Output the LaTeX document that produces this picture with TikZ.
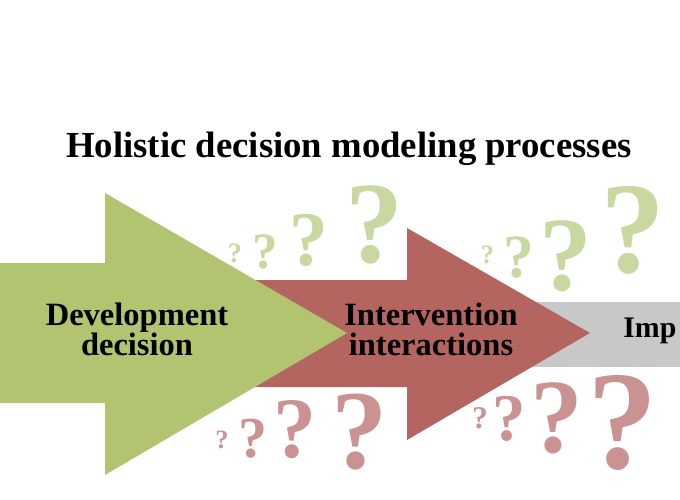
\documentclass[tikz,border=0pt]{standalone}
\usepackage{fontspec}
\setmainfont{Liberation Serif}
\usetikzlibrary{positioning}

\definecolor{devgreen}{RGB}{179,196,113}
\definecolor{intred}{RGB}{180,101,96}
\definecolor{impgray}{RGB}{200,200,200}
\definecolor{qgreen}{RGB}{201,215,160}
\definecolor{qred}{RGB}{202,146,144}

\begin{document}
\begin{tikzpicture}[
  x=0.02cm, y=-0.02cm,
  stagelab/.style={align=center, font=\fontsize{18.5}{17}\selectfont\bfseries, inner sep=0pt, anchor=base},
  titlelab/.style={font=\fontsize{20.9}{24}\selectfont\bfseries, inner sep=0pt, anchor=base},
  qmark/.style={inner sep=0pt, anchor=base, font=\bfseries}
]
\clip (0,0) rectangle (680,500);
\fill[white] (0,0) rectangle (680,500);

% the three stages, back to front
\fill[impgray] (530,302) rectangle (690,367);
\fill[intred] (200,280) -- (407,280) -- (407,228) -- (590,333) -- (407,440) -- (407,387) -- (200,387) -- cycle;
\fill[devgreen] (0,263) -- (105,263) -- (105,193) -- (347,333) -- (105,475) -- (105,403) -- (0,403) -- cycle;

\node[titlelab] (title) at (349,157) {Holistic decision modeling processes};

\node[stagelab] (dev) at (137,355) {Development\\decision};
\node[stagelab] (inter) at (431,355) {Intervention\\interactions};
\node[stagelab, anchor=base west, font=\fontsize{17}{17}\selectfont\bfseries] (imp) at (623,337) {Imp};

% question marks above
\foreach \x/\y/\s [count=\i] in {235/262/16, 265.5/268/29, 308.5/265/44, 374/262/66,
                                 487.5/263/15, 519/277/35, 565.5/290/60, 632.5/273/74}
  \node[qmark, text=qgreen, font=\fontsize{\s pt}{\s pt}\selectfont\bfseries] (qup\i) at (\x,\y) {?};
% question marks below
\foreach \x/\y/\s [count=\i] in {222/448/15, 252.5/457/33, 295/457/49, 360/468/64,
                                 480/428/18, 509/440/38, 556.5/452/60, 623/468/80}
  \node[qmark, text=qred, font=\fontsize{\s pt}{\s pt}\selectfont\bfseries] (qdown\i) at (\x,\y) {?};
\end{tikzpicture}
\end{document}
